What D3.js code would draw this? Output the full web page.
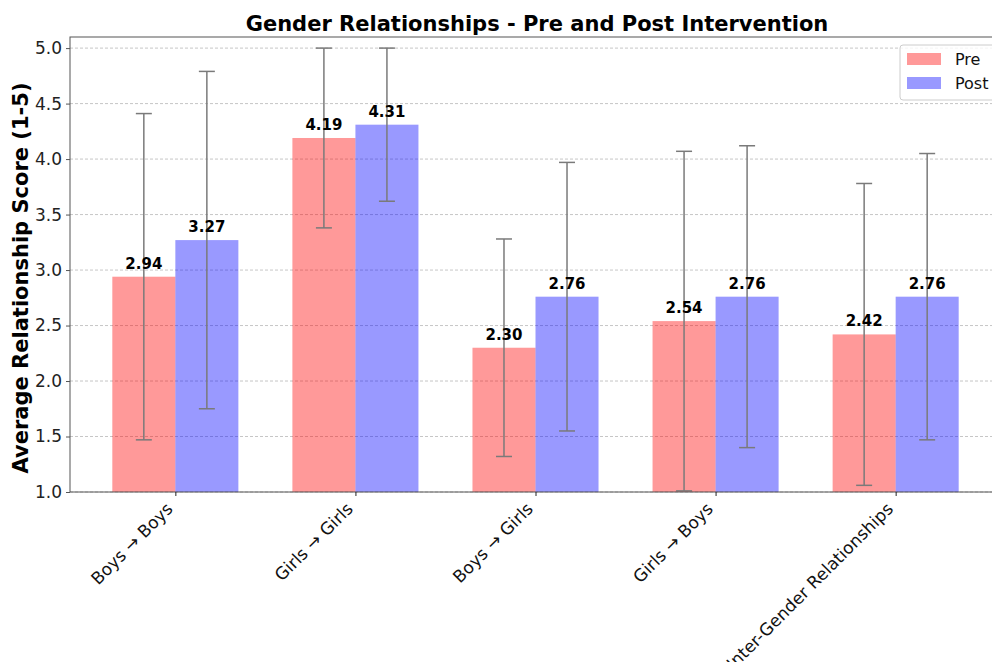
<!DOCTYPE html>
<html>
<head>
<meta charset="utf-8">
<script src="https://cdn.jsdelivr.net/npm/d3@7"></script>
<style>
  html, body { margin: 0; padding: 0; background: #fff; }
  text { font-family: "DejaVu Sans", sans-serif; }
</style>
</head>
<body>
<svg id="chart" width="992" height="662"></svg>
<script>
// Relationship categories and mean scores before / after the intervention
const categories = ["Boys → Boys", "Girls → Girls", "Boys → Girls", "Girls → Boys", "Inter-Gender Relationships"];
const preMeans  = [2.94, 4.19, 2.30, 2.54, 2.42];
const postMeans = [3.27, 4.31, 2.76, 2.76, 2.76];
// Standard deviations shown as error bars
const preSD  = [1.47, 0.81, 0.98, 1.53, 1.36];
const postSD = [1.52, 0.69, 1.21, 1.36, 1.29];
const yTicks = [1.0, 1.5, 2.0, 2.5, 3.0, 3.5, 4.0, 4.5, 5.0];
const seriesNames = ["Pre", "Post"];

const svg = d3.select("#chart");
const plotLeft = 70, plotRight = 1001, plotTop = 37, plotBottom = 492;
const barW = 0.35;

const x = d3.scaleLinear().domain([-0.585, 4.585]).range([plotLeft, plotRight]);
const y = d3.scaleLinear().domain([1, 5.1]).range([plotBottom, plotTop]);

const colors = { Pre: "rgba(255,0,0,0.4)", Post: "rgba(0,0,255,0.4)" };

// Title
svg.append("text")
  .attr("x", 537).attr("y", 31)
  .attr("text-anchor", "middle")
  .attr("font-size", 21).attr("font-weight", "bold")
  .text("Gender Relationships - Pre and Post Intervention");

// Horizontal dashed grid
svg.append("g").selectAll("line").data(yTicks).join("line")
  .attr("x1", plotLeft).attr("x2", plotRight)
  .attr("y1", d => y(d)).attr("y2", d => y(d))
  .attr("stroke", "#b8b8b8").attr("stroke-width", 0.8)
  .attr("stroke-dasharray", "3,2");

// Bars
const series = [
  { name: "Pre", means: preMeans, sd: preSD, offset: -barW },
  { name: "Post", means: postMeans, sd: postSD, offset: 0 }
];

series.forEach(s => {
  svg.append("g").selectAll("rect").data(s.means).join("rect")
    .attr("x", (d, i) => x(i + s.offset))
    .attr("width", x(barW) - x(0))
    .attr("y", d => y(d))
    .attr("height", d => y(1) - y(d))
    .attr("fill", colors[s.name]);
});

// Error bars
series.forEach(s => {
  const g = svg.append("g").attr("stroke", "#7a7a7a").attr("stroke-width", 1.5);
  s.means.forEach((m, i) => {
    const cx = x(i + s.offset + barW / 2);
    const lo = Math.max(1, m - s.sd[i]), hi = m + s.sd[i];
    g.append("line").attr("x1", cx).attr("x2", cx).attr("y1", y(lo)).attr("y2", y(hi));
    [lo, hi].forEach(v => {
      g.append("line").attr("x1", cx - 8).attr("x2", cx + 8).attr("y1", y(v)).attr("y2", y(v));
    });
  });
});

// Value labels
series.forEach(s => {
  svg.append("g").selectAll("text").data(s.means).join("text")
    .attr("x", (d, i) => x(i + s.offset + barW / 2))
    .attr("y", d => y(d) - 8)
    .attr("text-anchor", "middle")
    .attr("font-size", 15).attr("font-weight", "bold")
    .text(d => d.toFixed(2));
});

// Frame (spines)
svg.append("rect")
  .attr("x", plotLeft).attr("y", plotTop)
  .attr("width", plotRight - plotLeft).attr("height", plotBottom - plotTop)
  .attr("fill", "none").attr("stroke", "#555").attr("stroke-width", 1);

// Y axis
const yAxis = svg.append("g")
  .attr("transform", `translate(${plotLeft},0)`)
  .call(d3.axisLeft(y).tickValues(yTicks).tickFormat(d3.format(".1f")).tickSize(4).tickPadding(4));
yAxis.select(".domain").remove();
yAxis.selectAll("line").attr("stroke", "#555");
yAxis.selectAll("text").attr("font-size", 17).attr("fill", "#222")
  .style("font-family", "DejaVu Sans, sans-serif");

// X axis with rotated labels
const xAxis = svg.append("g")
  .attr("transform", `translate(0,${plotBottom})`)
  .call(d3.axisBottom(x).tickValues(d3.range(categories.length)).tickFormat(i => categories[i]).tickSize(4));
xAxis.select(".domain").remove();
xAxis.selectAll("line").attr("stroke", "#222");
xAxis.selectAll("text")
  .attr("font-size", 17).attr("fill", "#111")
  .style("font-family", "DejaVu Sans, sans-serif")
  .attr("text-anchor", "end")
  .attr("dy", null).attr("y", 0)
  .attr("transform", "translate(-2,18) rotate(-45)");

// Y axis title
svg.append("text")
  .attr("transform", "translate(28,278) rotate(-90)")
  .attr("text-anchor", "middle")
  .attr("font-size", 21).attr("font-weight", "bold")
  .text("Average Relationship Score (1-5)");

// Legend
const lg = svg.append("g").attr("transform", "translate(900,45)");
lg.append("rect").attr("x", 0).attr("y", 0).attr("width", 100).attr("height", 55)
  .attr("rx", 3).attr("fill", "#fff").attr("fill-opacity", 0.8)
  .attr("stroke", "#ccc");
seriesNames.forEach((n, i) => {
  lg.append("rect").attr("x", 7).attr("y", 8 + i * 24).attr("width", 34).attr("height", 12)
    .attr("fill", colors[n]);
  lg.append("text").attr("x", 55).attr("y", 20 + i * 24)
    .attr("font-size", 16).attr("fill", "#111").text(n);
});
</script>
</body>
</html>
